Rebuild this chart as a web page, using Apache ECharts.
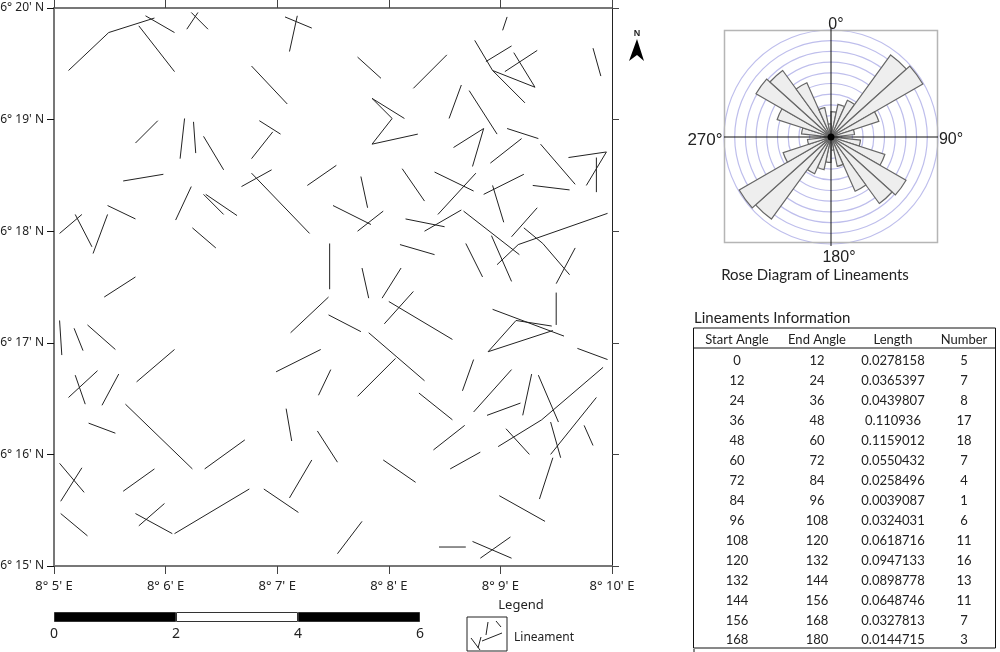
<!DOCTYPE html>
<html><head><meta charset="utf-8">
<style>html,body{margin:0;padding:0;background:#fff}#c{width:1000px;height:652px}</style>
<script src="https://cdn.jsdelivr.net/npm/echarts@6/dist/echarts.min.js"></script>
</head><body><div id="c"></div>
<script>
// Map axes are arc-minutes: longitude 8°xx' E, latitude 6°yy' N
const LON_TICK_LABELS = ["8° 5' E","8° 6' E","8° 7' E","8° 8' E","8° 9' E","8° 10' E"];
const LAT_TICK_LABELS = ["6° 15' N","6° 16' N","6° 17' N","6° 18' N","6° 19' N","6° 20' N"];

const LINEAMENTS_NW = [
[[5.13,19.44],[5.49,19.78],[5.90,19.91]],[[5.82,19.93],[6.08,19.78]],[[5.76,19.84],[6.08,19.43]],
[[6.23,19.96],[6.38,19.81]],[[6.29,19.96],[6.19,19.81]],[[7.07,19.92],[7.31,19.82]],[[7.18,19.93],[7.11,19.61]],
[[6.77,19.48],[7.09,19.14]],[[5.93,18.99],[5.73,18.79]],[[6.17,19.01],[6.13,18.65]],[[6.25,18.98],[6.27,18.70]],
[[6.34,18.85],[6.52,18.55]],[[6.84,18.99],[7.03,18.87]],[[6.96,18.89],[6.77,18.65]],[[5.62,18.45],[5.98,18.51]],
[[6.68,18.40],[6.95,18.55]],[[6.77,18.52],[7.29,17.98]],[[7.27,18.41],[7.53,18.59]],[[6.23,18.40],[6.09,18.10]],
[[6.34,18.33],[6.52,18.15]],[[6.36,18.33],[6.64,18.14]],[[6.24,18.03],[6.45,17.85]],[[5.05,17.98],[5.25,18.15]],
[[5.19,18.15],[5.34,17.86]],[[5.48,18.15],[5.35,17.80]],[[5.48,18.23],[5.73,18.11]],[[5.45,17.41],[5.73,17.59]]
];
const LINEAMENTS_NE = [
[[7.72,19.56],[7.93,19.37]],[[8.22,19.28],[8.52,19.58]],[[9.06,19.92],[9.02,19.80]],
[[8.77,19.71],[8.93,19.44],[9.22,19.15]],[[8.87,19.52],[9.10,19.66]],[[9.04,19.43],[9.33,19.62]],
[[8.93,19.44],[9.31,19.29],[9.12,19.60]],[[9.83,19.64],[9.90,19.39]],
[[7.85,19.19],[8.03,19.01],[7.85,18.78],[8.26,18.87]],[[7.85,19.19],[8.14,19.01]],[[8.65,19.31],[8.54,19.01]],
[[8.72,19.26],[8.97,18.87]],[[8.58,18.75],[8.85,18.92],[8.75,18.58]],[[9.06,18.92],[9.34,18.83]],
[[8.91,18.61],[9.19,18.83]],[[9.36,18.78],[9.67,18.42]],[[9.61,18.66],[9.95,18.71],[9.77,18.41]],
[[9.86,18.66],[9.86,18.35]],[[9.29,18.41],[9.62,18.37]],[[8.12,18.56],[8.32,18.27]],[[7.75,18.49],[7.81,18.21]],
[[8.41,18.53],[8.76,18.36]],[[8.78,18.52],[8.44,18.15]],[[7.50,18.23],[7.84,18.06]],[[7.72,18.00],[7.95,18.18]],
[[8.15,18.11],[8.50,18.04]],[[8.32,18.00],[8.65,18.19]],[[8.67,18.18],[9.17,17.79]],[[8.85,18.33],[9.21,18.51]],
[[8.93,18.41],[9.03,18.08]],[[9.10,17.95],[9.33,18.21]],[[8.97,17.70],[9.16,17.88],[9.96,18.16]],
[[9.21,18.03],[9.38,17.89],[9.62,17.61]],[[9.67,17.85],[9.50,17.53]],[[8.92,17.96],[9.10,17.55]],
[[8.69,17.89],[8.84,17.59]],[[8.10,17.88],[8.41,17.79]],[[7.47,17.89],[7.47,17.48]],[[7.76,17.67],[7.82,17.40]],
[[8.11,17.67],[7.94,17.40]]
];
const LINEAMENTS_SE = [
[[8.22,17.46],[7.96,17.17]],[[8.00,17.37],[8.57,17.03]],[[7.46,17.41],[7.12,17.09]],[[7.46,17.25],[7.75,17.10]],
[[7.82,17.09],[8.32,16.66]],[[8.06,16.86],[7.72,16.52]],[[6.99,16.74],[7.39,16.94]],[[7.48,16.76],[7.37,16.53]],
[[7.36,16.21],[7.54,15.93]],[[8.27,16.55],[8.57,16.31]],[[8.68,16.26],[8.40,16.04]],[[7.95,15.95],[8.24,15.75]],
[[8.55,15.87],[8.82,16.02]],[[8.76,16.85],[8.66,16.57]],[[9.10,16.76],[8.76,16.38]],[[9.18,16.46],[8.88,16.35]],
[[9.28,16.72],[9.20,16.35]],[[9.34,16.71],[9.52,16.29]],[[9.92,16.78],[9.37,16.31],[8.98,16.07]],
[[9.05,16.23],[9.26,16.00]],[[9.45,16.29],[9.54,15.97]],[[9.86,16.51],[9.45,16.00]],[[9.75,16.26],[9.83,16.08]],
[[9.47,15.97],[9.35,15.60]],[[8.99,15.63],[9.40,15.40]],[[9.69,16.95],[9.96,16.85]],[[8.93,17.30],[9.57,17.06]],
[[9.46,17.15],[9.14,17.20],[8.89,16.92],[9.47,17.11]],[[9.50,17.45],[9.50,17.16]],[[7.76,15.40],[7.54,15.11]],
[[8.45,15.17],[8.69,15.17]],[[8.75,15.22],[9.10,15.07]],[[9.09,15.26],[8.82,15.07]]
];
const LINEAMENTS_SW = [
[[5.05,17.20],[5.07,16.89]],[[5.18,17.13],[5.26,16.93]],[[5.30,17.16],[5.55,16.94]],[[5.39,16.75],[5.13,16.51]],
[[5.19,16.71],[5.28,16.45]],[[5.58,16.72],[5.43,16.44]],[[6.08,16.94],[5.74,16.65]],[[5.64,16.45],[6.24,15.87]],
[[5.31,16.28],[5.55,16.19]],[[6.71,16.13],[6.35,15.87]],[[5.05,15.92],[5.27,15.66]],[[5.25,15.88],[5.06,15.58]],
[[5.90,15.87],[5.62,15.67]],[[5.06,15.47],[5.30,15.27]],[[5.73,15.47],[6.06,15.29]],[[5.99,15.56],[5.76,15.36]],
[[6.08,15.29],[6.75,15.69]],[[6.88,15.69],[7.19,15.48]],[[7.31,15.95],[7.11,15.61]],[[7.08,16.41],[7.13,16.12]]
];
const LEGEND_SAMPLE = [
[[21,29],[19,16]],[[29,30],[34,24]],[[35,18],[15,10]],[[14,14],[11,3]],[[4,13],[13,1]]
];

const START_ANGLES = [0,12,24,36,48,60,72,84,96,108,120,132,144,156,168];
const END_ANGLES = [12,24,36,48,60,72,84,96,108,120,132,144,156,168,180];
const LENGTHS = ["0.0278158","0.0365397","0.0439807","0.110936","0.1159012","0.0550432","0.0258496","0.0039087","0.0324031","0.0618716","0.0947133","0.0898778","0.0648746","0.0327813","0.0144715"];
const NUMBERS = [5,7,8,17,18,7,4,1,6,11,16,13,11,7,3];
const TABLE_HEAD = ["Start Angle","End Angle","Length","Number"];
const SCALE_SEGMENTS = [2,2,2];
const SCALE_COLORS = ["#000","#fff","#000"];

const MAP_FONT = "Noto Sans";
const TXT_FONT = "Lato";
const allPaths = [...LINEAMENTS_NW, ...LINEAMENTS_NE, ...LINEAMENTS_SE, ...LINEAMENTS_SW];
const lengthValues = LENGTHS.map(Number);
const roseValues = lengthValues.concat(lengthValues);
const roseBins = START_ANGLES.concat(START_ANGLES.map(a => a + 180));

function text(x, y, s, size, font, align, weight) {
  return {type:'text', x, y, z:20, silent:true,
    style:{text:s, fontSize:size, fontFamily:font, fontWeight:weight||'normal', fill:'#222', align:align||'center', verticalAlign:'middle'}};
}
function line(x1,y1,x2,y2,color,w){
  return {type:'line', z:20, silent:true, shape:{x1,y1,x2,y2}, style:{stroke:color, lineWidth:w||1}};
}
const COLS = [737,817,893,964];
const graphics = [
  {type:'rect', z:1, silent:true, shape:{x:724.5,y:30.5,width:213,height:212}, style:{fill:'none',stroke:'#b5b5b5',lineWidth:1.5}},
  line(831,28,831,246,'#111',1), line(724,137,938,137,'#111',1),
  {type:'circle', z:21, silent:true, shape:{cx:831,cy:137,r:3.5}, style:{fill:'#000'}},
  text(836,25,'0°',16,'Liberation Sans'), text(951,140,'90°',16,'Liberation Sans'),
  text(705,140,'270°',17,'Liberation Sans'), text(839,258,'180°',16,'Liberation Sans'),
  text(815,275,'Rose Diagram of Lineaments',15,TXT_FONT),
  text(694,318,'Lineaments Information',15,TXT_FONT,'left'),
  {type:'rect', z:20, silent:true, shape:{x:693.5,y:328,width:302,height:320}, style:{fill:'none',stroke:'#111',lineWidth:1}},
  line(693,348,996,348,'#111',1), line(694,649,694,652,'#111',1),
  text(521,605,'Legend',13,MAP_FONT), text(514,638,'Lineament',12,MAP_FONT,'left'),
  {type:'polygon', z:20, silent:true, shape:{points:[[637,39],[644,61],[637,55],[629,61]]}, style:{fill:'#000'}},
  text(637,33.5,'N',9,'Liberation Sans','center','bold'),
];
TABLE_HEAD.forEach((h,i)=>graphics.push(text(COLS[i],340,h,13,TXT_FONT)));
START_ANGLES.forEach((a,r)=>{
  const y = 361 + r*19.95;
  [a,END_ANGLES[r],LENGTHS[r],NUMBERS[r]].forEach((v,i)=>graphics.push(text(COLS[i],y,String(v),13,TXT_FONT)));
});

const hiddenAxis = {show:false};
const option = {
  animation:false,
  backgroundColor:'#fff',
  grid:[
    {left:54, top:8, width:558, height:558, outerBoundsMode:'none', containLabel:false},
    {left:54, top:612, width:366, height:10, outerBoundsMode:'none', containLabel:false},
    {left:467, top:617, width:40, height:34, outerBoundsMode:'none', containLabel:false, show:true, borderColor:'#222', borderWidth:1, backgroundColor:'#fff'}
  ],
  xAxis:[
    {gridIndex:0, type:'value', min:5, max:10, interval:1, position:'bottom',
     axisLine:{lineStyle:{color:'#777',width:2}}, axisTick:{length:8,lineStyle:{color:'#444'}},
     splitLine:{show:false},
     axisLabel:{margin:14,color:'#222',fontFamily:MAP_FONT,fontSize:13,formatter:v=>LON_TICK_LABELS[v-5]}},
    {gridIndex:0, type:'value', min:5, max:10, interval:1, position:'top',
     axisLine:{lineStyle:{color:'#777',width:2}}, axisTick:{length:8,lineStyle:{color:'#444'}},
     splitLine:{show:false}, axisLabel:{show:false}},
    {gridIndex:1, type:'value', min:0, max:6, interval:2, position:'bottom',
     axisLine:{show:false}, axisTick:{show:false}, splitLine:{show:false},
     axisLabel:{margin:5,color:'#222',fontFamily:MAP_FONT,fontSize:14}},
    {gridIndex:2, type:'value', min:0, max:40, ...hiddenAxis}
  ],
  yAxis:[
    {gridIndex:0, type:'value', min:15, max:20, interval:1, position:'left',
     axisLine:{lineStyle:{color:'#777',width:2}}, axisTick:{length:7,lineStyle:{color:'#111'}},
     splitLine:{show:false},
     axisLabel:{margin:10,padding:[3,0,0,0],color:'#222',fontFamily:MAP_FONT,fontSize:12,formatter:v=>LAT_TICK_LABELS[v-15]}},
    {gridIndex:0, type:'value', min:15, max:20, interval:1, position:'right',
     axisLine:{lineStyle:{color:'#222',width:1}}, axisTick:{length:7,lineStyle:{color:'#444'}},
     splitLine:{show:false}, axisLabel:{show:false}},
    {gridIndex:1, type:'category', data:['scale'], ...hiddenAxis},
    {gridIndex:2, type:'value', min:0, max:34, ...hiddenAxis}
  ],
  polar:{center:[831,137], radius:107},
  angleAxis:{type:'category', data:roseBins, startAngle:90, clockwise:true, boundaryGap:true,
    axisLine:{show:false}, axisTick:{show:false}, axisLabel:{show:false}, splitLine:{show:false}},
  radiusAxis:{type:'value', min:0, max:0.117, interval:0.0117, axisLine:{show:false}, axisTick:{show:false},
    axisLabel:{show:false}, splitLine:{show:true, lineStyle:{color:'#bebeec',width:1.2}}},
  series:[
    {type:'lines', coordinateSystem:'cartesian2d', xAxisIndex:0, yAxisIndex:0, polyline:true, silent:true,
     lineStyle:{color:'#222',width:1,opacity:1}, data:allPaths.map(coords=>({coords}))},
    {type:'lines', coordinateSystem:'cartesian2d', xAxisIndex:3, yAxisIndex:3, polyline:true, silent:true,
     lineStyle:{color:'#222',width:1,opacity:1}, data:LEGEND_SAMPLE.map(coords=>({coords}))},
    ...SCALE_SEGMENTS.map((v,i)=>({type:'bar', stack:'scale', xAxisIndex:2, yAxisIndex:2, barWidth:'100%', silent:true,
      data:[v], itemStyle:{color:SCALE_COLORS[i], borderColor:'#333', borderWidth:1}})),
    {type:'bar', coordinateSystem:'polar', data:roseValues, barCategoryGap:'0%', silent:true,
      itemStyle:{color:'#eeeeee', borderColor:'#666', borderWidth:1.2}}
  ],
  graphic:{elements:graphics}
};
echarts.init(document.getElementById('c'),null,{renderer:'canvas'}).setOption(option);
</script></body></html>
